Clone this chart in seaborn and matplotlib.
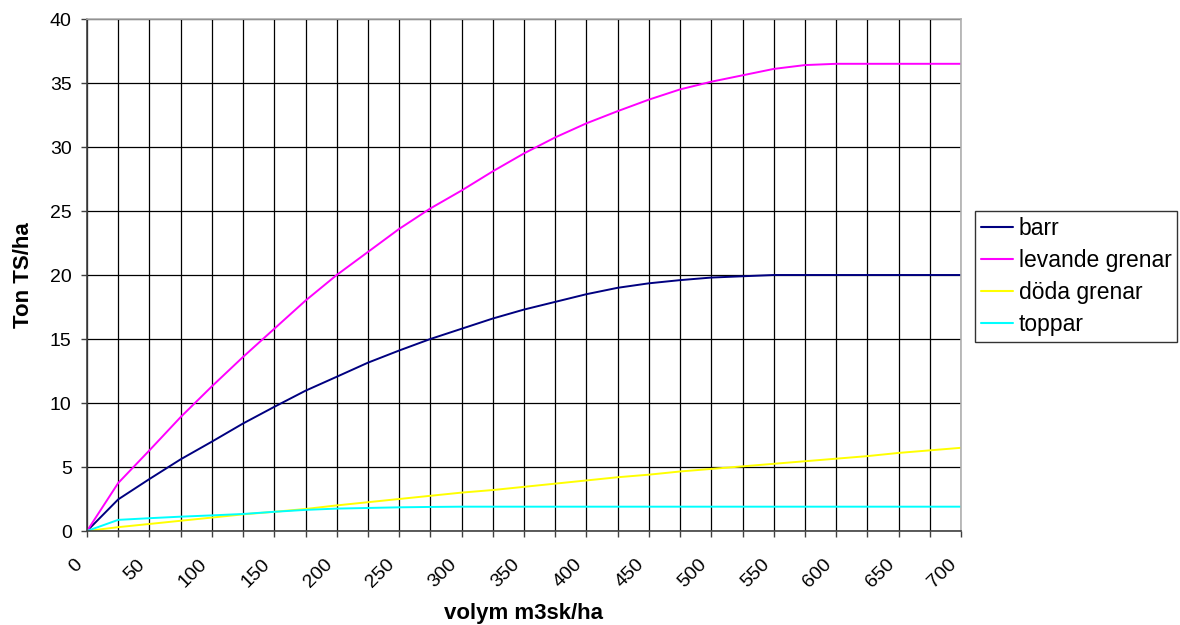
import numpy as np
import pandas as pd
import seaborn as sns
import matplotlib.ticker as mticker
import matplotlib.transforms as mtransforms
from matplotlib import pyplot as plt

sns.set_theme(style="white")
plt.rcParams["font.family"] = ["Liberation Sans", "DejaVu Sans"]
plt.rcParams["text.color"] = "black"
plt.rcParams["axes.labelcolor"] = "black"

# volym m3sk/ha
volym = list(range(0, 701, 25))

barr = [0, 2.47, 4.06, 5.6, 6.98, 8.4, 9.7, 10.96, 12.05, 13.15, 14.1, 15.0, 15.8,
        16.6, 17.3, 17.9, 18.5, 19.0, 19.35, 19.6, 19.8, 19.9, 20.0, 20.0, 20.0,
        20.0, 20.0, 20.0, 20.0]
levande = [0, 3.75, 6.3, 8.9, 11.3, 13.6, 15.8, 18.0, 20.0, 21.8, 23.6, 25.2, 26.6,
           28.1, 29.5, 30.75, 31.85, 32.8, 33.7, 34.5, 35.1, 35.6, 36.1, 36.4, 36.5,
           36.5, 36.5, 36.5, 36.5]
doda = [0, 0.3, 0.55, 0.8, 1.05, 1.3, 1.5, 1.72, 2.0, 2.25, 2.5, 2.75, 3.0,
        3.2, 3.45, 3.7, 3.95, 4.2, 4.4, 4.65, 4.85, 5.05, 5.25, 5.45, 5.65,
        5.85, 6.1, 6.3, 6.5]
toppar = [0, 0.87, 1.0, 1.12, 1.22, 1.33, 1.5, 1.65, 1.75, 1.8, 1.85, 1.88, 1.9,
          1.9, 1.9, 1.9, 1.9, 1.9, 1.9, 1.9, 1.9, 1.9, 1.9, 1.9, 1.9,
          1.9, 1.9, 1.9, 1.9]

names = ["barr", "levande grenar", "döda grenar", "toppar"]
colors = ["#000080", "#FF00FF", "#FFFF00", "#00FFFF"]

df = pd.DataFrame({"volym": volym, "barr": barr, "levande grenar": levande,
                   "döda grenar": doda, "toppar": toppar})
df = df.melt("volym", var_name="serie", value_name="ton")

fig = plt.figure(figsize=(11.8, 6.25), dpi=100)
ax = fig.add_axes([87 / 1180, 1 - 531 / 625, (961 - 87) / 1180, (531 - 19) / 625])

sns.lineplot(data=df, x="volym", y="ton", hue="serie", hue_order=names,
             palette=dict(zip(names, colors)), linewidth=1.4, ax=ax)

ax.set_xlim(0, 700)
ax.set_ylim(0, 40)
ax.yaxis.set_major_locator(mticker.MultipleLocator(5))
ax.set_xticks(volym)
ax.set_xticklabels([str(v) if v % 50 == 0 else "" for v in volym],
                   rotation=45, ha="right", va="center", rotation_mode="anchor",
                   fontsize=14)
for t in ax.get_yticklabels():
    t.set_fontsize(14)
ax.tick_params(axis="both", direction="out", length=4.3, width=1, color="#404040",
               labelcolor="black", bottom=True, left=True)
ax.tick_params(axis="y", pad=6.7)
ax.tick_params(axis="x", pad=18)
# flytta x-etiketterna lite åt vänster (efter tick_params, annars nollställs de)
shift = mtransforms.ScaledTranslation(-7 / 100, 0, fig.dpi_scale_trans)
for t in ax.get_xticklabels():
    t.set_transform(t.get_transform() + shift)

ax.grid(True, color="black", linewidth=0.9)
ax.set_axisbelow(True)
for side in ["top", "right"]:
    ax.spines[side].set_color("#b0b0b0")
    ax.spines[side].set_linewidth(1.2)
for side in ["left", "bottom"]:
    ax.spines[side].set_color("#404040")
    ax.spines[side].set_linewidth(1.2)

ax.set_xlabel("volym m3sk/ha", fontsize=16, fontweight="bold", labelpad=8.5)
ax.set_ylabel("Ton TS/ha", fontsize=16, fontweight="bold", labelpad=11.5)

leg = ax.legend(loc="upper left", bbox_to_anchor=(975 / 1180, 1 - 211 / 625),
                bbox_transform=fig.transFigure, borderaxespad=0, frameon=True,
                fontsize=16.5, fancybox=False, handlelength=1.4, handletextpad=0.25,
                borderpad=0.25, labelspacing=0.4, title=None)
leg.get_frame().set_edgecolor("black")
leg.get_frame().set_linewidth(1.0)
for h in leg.get_lines():
    h.set_linewidth(1.5)

plt.savefig("out.png", dpi=100)
